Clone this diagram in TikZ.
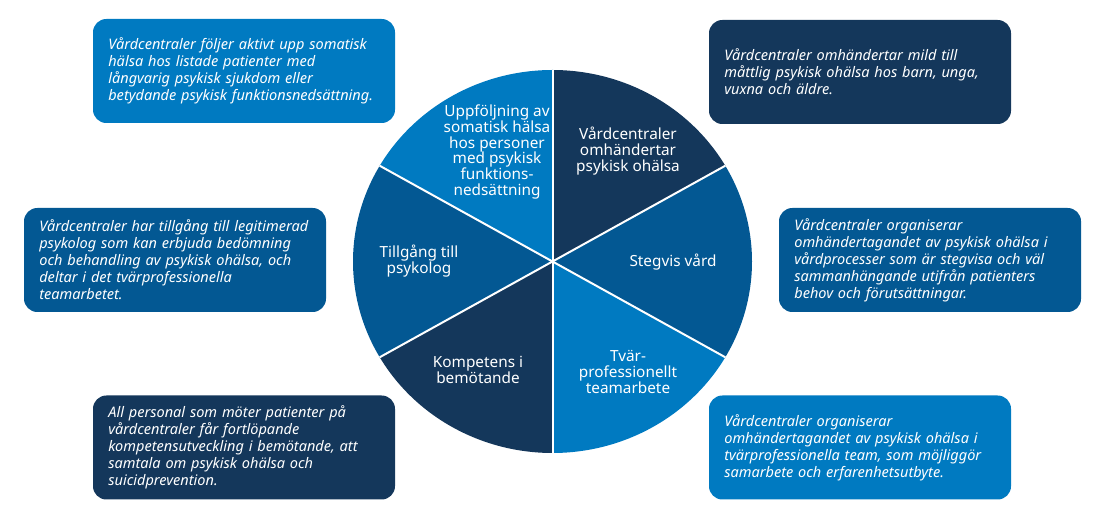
\documentclass[tikz,border=0pt]{standalone}
\usepackage{fontspec}
\setmainfont{Noto Sans}
\definecolor{ljusbla}{HTML}{007AC1}
\definecolor{mellanbla}{HTML}{035893}
\definecolor{morkbla}{HTML}{14375B}
\tikzset{
  ruta/.style={rounded corners=10pt, text=white, align=left, inner xsep=11.5pt, inner ysep=0pt,
    text width=203.5pt, minimum height=78pt, font=\itshape\fontsize{10.9}{12.8}\selectfont},
  sektortext/.style={text=white, align=center, inner sep=0pt, font=\fontsize{11.5}{11.9}\selectfont}
}
\begin{document}
\begin{tikzpicture}[x=0.75pt,y=0.75pt, line join=round]
\useasboundingbox (0,0) rectangle (1107,-523);
\coordinate (M) at (552.5,-261.5);
%Sektorer
\foreach \v/\f in {30/morkbla,-30/mellanbla,-90/ljusbla,-150/morkbla,150/mellanbla,90/ljusbla}
  \fill[\f] (M) -- ++(\v:199.5 and 191.5) arc[start angle=\v, delta angle=60, x radius=199.5, y radius=191.5] -- cycle;
%Skiljelinjer
\foreach \v in {90,30,...,-210}
  \draw[white, line width=1.5pt] (M) -- ++(\v:199.5 and 191.5);
%Text i sektorerna
\node[sektortext] (uppf) at (497,-152) {Uppföljning av\\somatisk hälsa\\hos personer\\med psykisk\\funktions-\\nedsättning};
\node[sektortext] (omh) at (628,-151) {Vårdcentraler\\omhändertar\\psykisk ohälsa};
\node[sektortext] (psyk) at (419,-261) {Tillgång till\\psykolog};
\node[sektortext] (steg) at (673,-262) {Stegvis vård};
\node[sektortext] (komp) at (478,-370) {Kompetens i\\bemötande};
\node[sektortext] (team) at (628,-372) {Tvär-\\professionellt\\teamarbete};
%Rutor
\node[ruta, fill=ljusbla] (r1) at (244,-71) {Vårdcentraler följer aktivt upp somatisk\\hälsa hos listade patienter med\\långvarig psykisk sjukdom eller\\betydande psykisk funktionsnedsättning.};
\node[ruta, fill=morkbla] (r2) at (860,-72) {Vårdcentraler omhändertar mild till\\måttlig psykisk ohälsa hos barn, unga,\\vuxna och äldre.};
\node[ruta, fill=mellanbla] (r3) at (175,-260) {Vårdcentraler har tillgång till legitimerad\\psykolog som kan erbjuda bedömning\\och behandling av psykisk ohälsa, och\\deltar i det tvärprofessionella\\teamarbetet.};
\node[ruta, fill=mellanbla] (r4) at (930,-260) {Vårdcentraler organiserar\\omhändertagandet av psykisk ohälsa i\\vårdprocesser som är stegvisa och väl\\sammanhängande utifrån patienters\\behov och förutsättningar.};
\node[ruta, fill=morkbla] (r5) at (244,-447.5) {All personal som möter patienter på\\vårdcentraler får fortlöpande\\kompetensutveckling i bemötande, att\\samtala om psykisk ohälsa och\\suicidprevention.};
\node[ruta, fill=ljusbla] (r6) at (860,-447.5) {Vårdcentraler organiserar\\omhändertagandet av psykisk ohälsa i\\tvärprofessionella team, som möjliggör\\samarbete och erfarenhetsutbyte.};
\end{tikzpicture}
\end{document}
